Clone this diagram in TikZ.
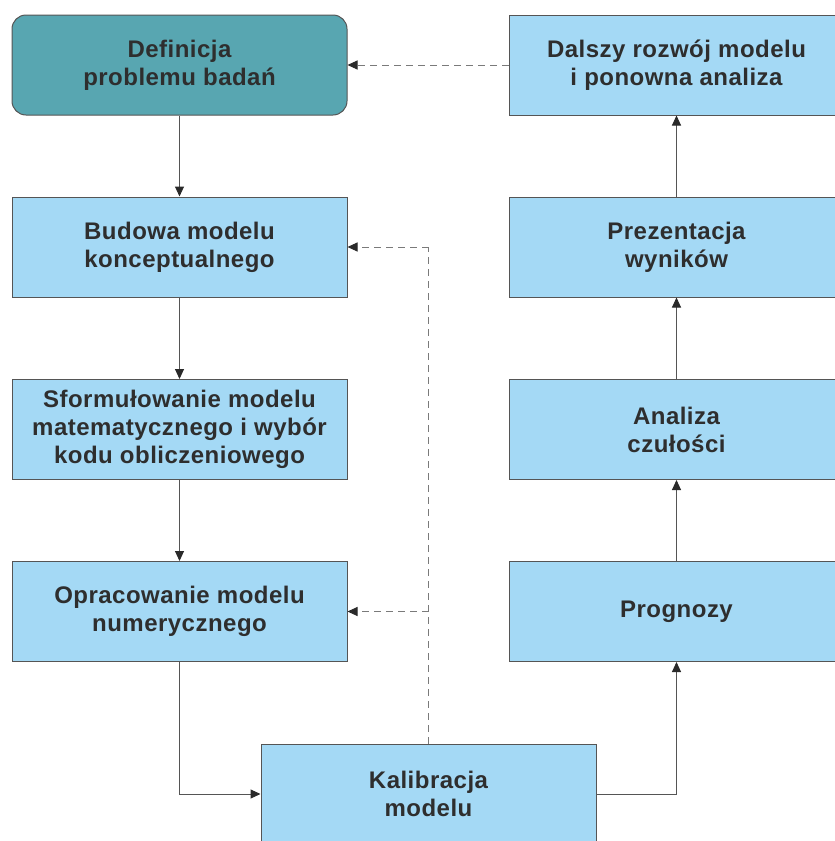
\documentclass[tikz,border=0pt]{standalone}
\usepackage{fontspec}
\setmainfont{Liberation Sans}[LetterSpace=2]
\usetikzlibrary{arrows.meta,calc}
\definecolor{boxblue}{HTML}{A4D9F5}
\definecolor{teal}{HTML}{58A6B1}
\definecolor{txt}{HTML}{2E2E2E}
\definecolor{edge}{HTML}{555555}
\definecolor{dash}{HTML}{7A7A7A}
\definecolor{tip}{HTML}{2A2A2A}
\tikzset{
  box/.style={draw=edge, line width=1pt, fill=boxblue, minimum width=335pt, minimum height=100pt,
    inner sep=0pt, align=center, text=txt, font=\fontsize{24}{28}\selectfont\bfseries},
  tealbox/.style={box, fill=teal, rounded corners=14pt},
  conn/.style={draw=edge, line width=1pt, -{Triangle[length=10pt,width=9pt,color=tip]}},
  dconn/.style={draw=dash, line width=1pt, dash pattern=on 7pt off 5pt, -{Triangle[length=10pt,width=9pt,color=tip]}},
  dline/.style={draw=dash, line width=1pt, dash pattern=on 7pt off 5pt}
}
\begin{document}
\begin{tikzpicture}[x=1pt,y=-1pt]
\useasboundingbox (0,0) rectangle (835,841);
\begin{scope}
\clip (0,0) rectangle (835,841);
\node[tealbox] (def) at (179.5,65) {Definicja\\problemu badań};
\node[box] (bud) at (179.5,247) {Budowa modelu\\konceptualnego};
\node[box] (sfo) at (179.5,429.5) {Sformułowanie modelu\\matematycznego i wybór\\kodu obliczeniowego};
\node[box] (opr) at (179.5,611.5) {Opracowanie modelu\\numerycznego};
\node[box] (kal) at (428.5,794) {Kalibracja\\modelu};
\node[box] (dal) at (676.5,65) {Dalszy rozwój modelu\\i ponowna analiza};
\node[box] (pre) at (676.5,247) {Prezentacja\\wyników};
\node[box] (ana) at (676.5,429.5) {Analiza\\czułości};
\node[box] (pro) at (676.5,611.5) {Prognozy};

\draw[conn] (def) -- (bud);
\draw[conn] (bud) -- (sfo);
\draw[conn] (sfo) -- (opr);
\draw[conn] (opr.south) |- (kal.west);
\draw[conn] (kal.east) -| (pro.south);
\draw[conn] (pro) -- (ana);
\draw[conn] (ana) -- (pre);
\draw[conn] (pre) -- (dal);
\draw[dconn] (dal.west) -- (def.east);
\coordinate (top) at (kal.north |- bud.east);
\coordinate (mid) at (kal.north |- opr.east);
\draw[dline] (kal.north) -- (top);
\draw[dconn] (top) -- (bud.east);
\draw[dconn] (mid) -- (opr.east);
\end{scope}
\end{tikzpicture}
\end{document}
